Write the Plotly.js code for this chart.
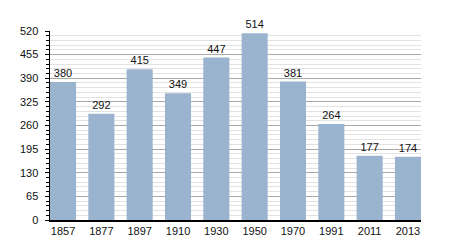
<!DOCTYPE html>
<html><head><meta charset="utf-8">
<script src="https://cdn.plot.ly/plotly-3.0.1.min.js"></script>
<style>html,body{margin:0;padding:0;background:#fff;}#c{width:450px;height:250px;}</style>
</head><body><div id="c"></div>
<script>
var years = ["1857","1877","1897","1910","1930","1950","1970","1991","2011","2013"];
var population = [380, 292, 415, 349, 447, 514, 381, 264, 177, 174];
var yTicks = [0, 65, 130, 195, 260, 325, 390, 455, 520];

var trace = {
  type: 'bar',
  x: years,
  y: population,
  marker: {color: '#9ab3cf', line: {width: 0}},
  text: population.map(String),
  textposition: 'outside',
  cliponaxis: false,
  textfont: {family: 'Liberation Sans, Arial, sans-serif', size: 11, color: '#111'},
  hoverinfo: 'none'
};

var layout = {
  width: 450, height: 250,
  margin: {l: 50, r: 29, t: 31, b: 30, pad: 0},
  paper_bgcolor: '#fff', plot_bgcolor: '#fff',
  bargap: 0.32,
  showlegend: false,
  font: {family: 'Liberation Sans, Arial, sans-serif', size: 11, color: '#111'},
  xaxis: {
    type: 'category',
    range: [-0.34, 9.34],
    showline: true, linecolor: '#000', linewidth: 1.5,
    ticks: '', showgrid: false, zeroline: false,
    tickfont: {size: 11, color: '#111'}
  },
  yaxis: {
    range: [0, 520],
    tickvals: yTicks,
    ticktext: yTicks.map(String),
    showline: true, linecolor: '#000', linewidth: 1.5,
    ticks: 'outside', ticklen: 4, tickcolor: '#000', tickwidth: 1,
    ticklabelstandoff: 4,
    showgrid: true, gridcolor: '#a8a8a8', gridwidth: 1,
    zeroline: false,
    tickfont: {size: 11, color: '#111'},
    minor: {dtick: 13, tick0: 0, ticks: 'outside', ticklen: 3, tickcolor: '#000', showgrid: true, gridcolor: '#e2e2e2', gridwidth: 1}
  }
};

Plotly.newPlot('c', [trace], layout, {displayModeBar: false, staticPlot: true});
</script></body></html>
